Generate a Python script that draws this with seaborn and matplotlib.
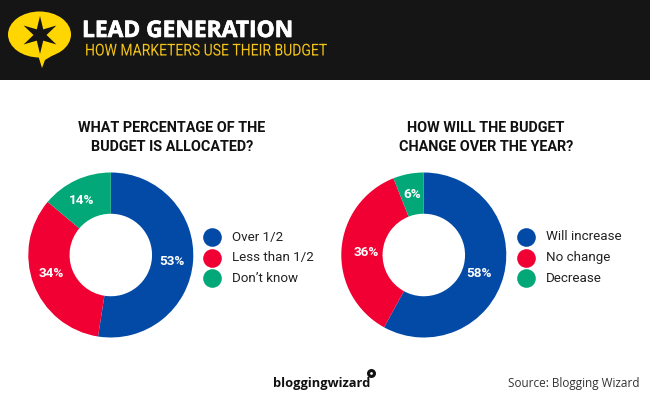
import numpy as np
import matplotlib
matplotlib.use("Agg")
import matplotlib.pyplot as plt
from matplotlib.patches import Ellipse, Polygon, Rectangle
from matplotlib.patheffects import AbstractPathEffect, withStroke
from matplotlib.transforms import Affine2D
import seaborn as sns

title = "LEAD GENERATION"
subtitle = "HOW MARKETERS USE THEIR BUDGET"
q1 = "WHAT PERCENTAGE OF THE\nBUDGET IS ALLOCATED?"
q2 = "HOW WILL THE BUDGET\nCHANGE OVER THE YEAR?"
labels1 = ["Over 1/2", "Less than 1/2", "Don’t know"]
values1 = [53, 34, 14]
labels2 = ["Will increase", "No change", "Decrease"]
values2 = [58, 36, 6]
colors = ["#034AA6", "#F00033", "#02A878"]
# hand nudges of the percent labels, in pixels (right, up)
nudge1 = [(0, -2), (-2, 3), (-3, -1)]
nudge2 = [(-4, -3), (3, -1), (0, 1)]


class XScale(AbstractPathEffect):
    """Draw text condensed horizontally about a fixed display x."""
    def __init__(self, sx, x0):
        super().__init__()
        self.sx, self.x0 = sx, x0

    def draw_path(self, renderer, gc, tpath, affine, rgbFace=None):
        t = affine + Affine2D().translate(-self.x0, 0).scale(self.sx, 1).translate(self.x0, 0)
        renderer.draw_path(gc, tpath, t, rgbFace)


sns.set_theme(style="white")
W, H = 650, 400
fig = plt.figure(figsize=(6.5, 4), dpi=100, facecolor="white")

bg = fig.add_axes([0, 0, 1, 1])
bg.set_xlim(0, W); bg.set_ylim(H, 0); bg.axis("off")
bg.add_patch(Rectangle((0, 0), W, 80, color="#151515", lw=0))

# logo
Y = "#FFD600"
bg.add_patch(Ellipse((39.5, 34.5), 63, 46, color=Y, lw=0))
bg.add_patch(Polygon([[38, 55], [55, 54], [45, 60], [42, 68]], color=Y, lw=0))
a = np.deg2rad(np.arange(0, 360, 30) + 90)
r = np.where(np.arange(12) % 2 == 0, 19, 6.5)
bg.add_patch(Polygon(np.c_[40 + r * np.cos(a), 35 - r * np.sin(a)], color="#151515", lw=0))

bg.text(82, 31, title, color="white", fontsize=16.4, fontweight="bold",
        family="Open Sans", va="center", ha="left",
        path_effects=[withStroke(linewidth=0.5, foreground="white")])
bg.text(85, 51, subtitle, color="#F5C518", fontsize=11.8, family="Roboto",
        va="center", ha="left", path_effects=[XScale(0.852, 85)])


def donut(cx, cy, R, vals, nudge):
    ax = fig.add_axes([(cx - R) / W, 1 - (cy + R) / H, 2 * R / W, 2 * R / H])
    wedges, texts = ax.pie(vals, labels=[f"{v}%" for v in vals], colors=colors, startangle=90,
                           counterclock=False, radius=1, labeldistance=0.74,
                           wedgeprops=dict(width=0.5, linewidth=0))
    for t, (dx, dy) in zip(texts, nudge):
        x, y = t.get_position()
        t.set_position((x + dx / R, y + dy / R))
        t.set(color="white", fontsize=9.7, fontweight="bold", family="Roboto",
              ha="center", va="center")
    ax.set_xlim(-1, 1); ax.set_ylim(-1, 1)
    ax.set_aspect("equal"); ax.axis("off")


donut(110.8, 255, 82.5, values1, nudge1)
donut(423.8, 255, 82.5, values2, nudge2)

for tx, q in [(172, q1), (486, q2)]:
    bg.text(tx, 137.5, q, color="#111111", fontsize=10.4, fontweight="bold", family="Roboto",
            ha="center", va="center", linespacing=1.4)

for dx, labs in [(212, labels1), (526, labels2)]:
    for y, lab, c in zip([237, 257.5, 278], labs, colors):
        bg.scatter([dx], [y], s=180, color=c, linewidths=0, zorder=3)
        bg.text(dx + 20, y, lab, color="#222222", fontsize=9.6, family="Roboto",
                va="center", ha="left")

# footer
bg.text(273, 383, "bloggingwizard", color="#111111", fontsize=9.3, fontweight="bold",
        family="Open Sans", va="center", ha="left")
bg.scatter([370.5], [372.5], s=42, color="#111111", linewidths=0, zorder=3)
bg.scatter([370.5], [372.5], s=4, color="white", linewidths=0, zorder=4)
bg.text(639, 384, "Source: Blogging Wizard", color="#333333", fontsize=8.45,
        family="Open Sans", va="center", ha="right")

fig.savefig("out.png", dpi=100)
